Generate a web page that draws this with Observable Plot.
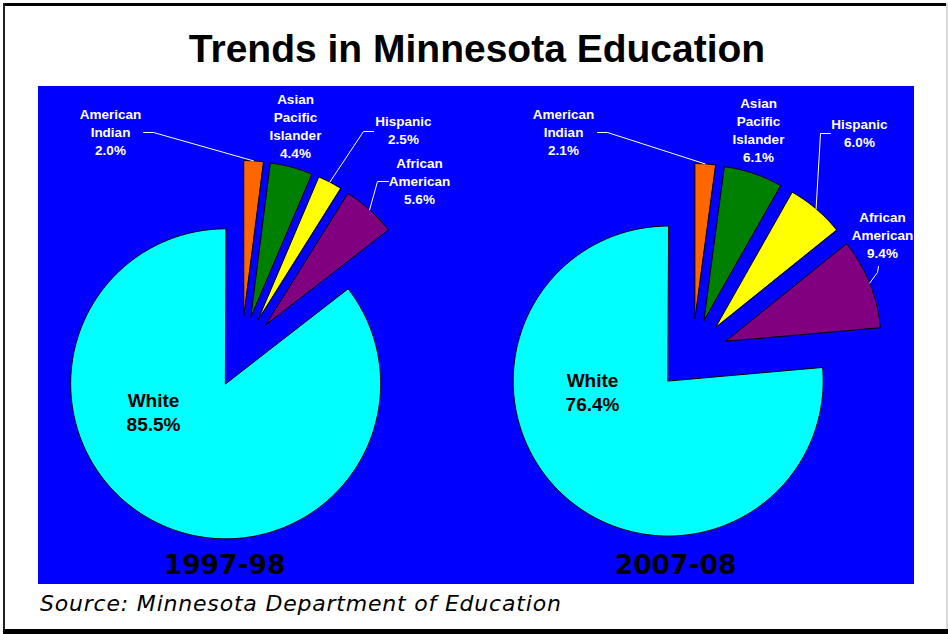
<!DOCTYPE html>
<html>
<head>
<meta charset="utf-8">
<script src="https://cdn.jsdelivr.net/npm/d3@7"></script>
<script src="https://cdn.jsdelivr.net/npm/@observablehq/plot@0.6"></script>
<style>
  html, body { margin: 0; padding: 0; background: #ffffff; }
  #frame { position: relative; width: 948px; height: 634px; overflow: hidden; background: #ffffff; }
  .bar { position: absolute; }
  #title { position: absolute; left: 3px; top: 29px; width: 948px; text-align: center;
           font: bold 39px "Liberation Sans", Arial, sans-serif; line-height: 39px; color: #000; }
  #chart { position: absolute; left: 38px; top: 86px; }
  #source { position: absolute; left: 40px; top: 593px; font: oblique 22px "DejaVu Sans", Verdana, sans-serif;
            letter-spacing: 0.8px; line-height: 22px; color: #000; white-space: nowrap; }
</style>
</head>
<body>
<div id="frame">
  <div class="bar" style="left:3px;top:3px;width:945px;height:2.5px;background:#000"></div>
  <div class="bar" style="left:3px;top:3px;width:2px;height:630px;background:#222"></div>
  <div class="bar" style="left:946px;top:3px;width:2px;height:630px;background:#d8d8d8"></div>
  <div class="bar" style="left:3px;top:629px;width:945px;height:5px;background:#000"></div>
  <div id="title">Trends in Minnesota Education</div>
  <div id="chart"></div>
  <div id="source">Source: Minnesota Department of Education</div>
</div>
<script>
// ---- data ----
const categories = ["American Indian", "Asian Pacific Islander", "Hispanic", "African American", "White"];
const labelNames = ["American\nIndian", "Asian\nPacific\nIslander", "Hispanic", "African\nAmerican", "White"];
const years = ["1997-98", "2007-08"];
const share1997 = [2.0, 4.4, 2.5, 5.6, 85.5];
const share2007 = [2.1, 6.1, 6.0, 9.4, 76.4];
const sliceColors = ["#FF6600", "#008000", "#FFFF00", "#800080", "#00FFFF"];

// ---- layout (panel pixel units) ----
const W = 876, H = 498;
const R = 155, explode = 36;
const pieCenters = [[203, 265], [654, 268]];
const yearPos = [[186, 479.5], [637, 479.5]];
const labelPos = [
  [[72, 45], [257, 39], [365, 43], [381, 94], [115, 325]],
  [[525, 45], [720, 43], [821, 46], [844, 148], [554, 305]]
];
const leaderPts = [
  [[[105, 46], [115, 46]], null, [[335, 45], [325, 45]], [[350, 95], [339, 95]], null],
  [[[559, 46], [569, 46]], null, [[792, 47], [782, 47]], [[840, 180], [839, 186]], null]
];

const seriesList = [share1997, share2007];
const slicePts = [], leaderRows = [], labelRows = [], yearRows = [];
seriesList.forEach((vals, i) => {
  const [cx, cy] = pieCenters[i];
  const arcs = d3.pie().sort(null).value(d => d)(vals);
  arcs.forEach((a, j) => {
    const mid = (a.startAngle + a.endAngle) / 2;
    const ax = cx + explode * Math.sin(mid), ay = cy - explode * Math.cos(mid);
    const key = `${i}-${j}`;
    slicePts.push({key, x: ax, y: ay, color: sliceColors[j]});
    const n = Math.max(2, Math.ceil((a.endAngle - a.startAngle) / (Math.PI / 180)));
    for (let k = 0; k <= n; k++) {
      const t = a.startAngle + (a.endAngle - a.startAngle) * k / n;
      slicePts.push({key, x: ax + R * Math.sin(t), y: ay - R * Math.cos(t), color: sliceColors[j]});
    }
    const lp = leaderPts[i][j];
    if (lp) {
      const pts = [...lp, [ax + R * Math.sin(mid), ay - R * Math.cos(mid)]];
      pts.forEach(([x, y]) => leaderRows.push({key, x, y}));
    }
    const pct = vals[j].toFixed(1) + "%";
    labelRows.push({
      x: labelPos[i][j][0], y: labelPos[i][j][1],
      text: labelNames[j] + "\n" + pct,
      white: j === 4
    });
  });
  yearRows.push({x: yearPos[i][0], y: yearPos[i][1], text: years[i]});
});

const chart = Plot.plot({
  width: W, height: H,
  margin: 0,
  style: {background: "#0000FF", overflow: "visible"},
  x: {domain: [0, W], range: [0, W], axis: null},
  y: {domain: [0, H], range: [0, H], axis: null},
  color: {type: "identity"},
  marks: [
    Plot.line(slicePts, {x: "x", y: "y", z: "key", fill: "color", stroke: "#000", strokeWidth: 1, curve: "linear-closed"}),
    Plot.line(leaderRows, {x: "x", y: "y", z: "key", stroke: "#fff", strokeWidth: 1}),
    Plot.text(labelRows.filter(d => !d.white), {x: "x", y: "y", text: "text", fill: "#fff", fontWeight: "bold",
      fontSize: 13.5, lineHeight: 1.33, fontFamily: "Liberation Sans, Arial, sans-serif", lineAnchor: "middle", textAnchor: "middle"}),
    Plot.text(labelRows.filter(d => d.white), {x: "x", y: "y", text: "text", fill: "#000", fontWeight: "bold",
      fontSize: 19, lineHeight: 1.26, fontFamily: "Liberation Sans, Arial, sans-serif", lineAnchor: "middle", textAnchor: "middle"}),
    Plot.text(yearRows, {x: "x", y: "y", text: "text", fill: "#000", fontWeight: "bold", fontSize: 26.5,
      fontFamily: "DejaVu Sans, Verdana, sans-serif", lineAnchor: "middle", textAnchor: "middle"})
  ]
});
document.getElementById("chart").appendChild(chart);
</script>
</body>
</html>
